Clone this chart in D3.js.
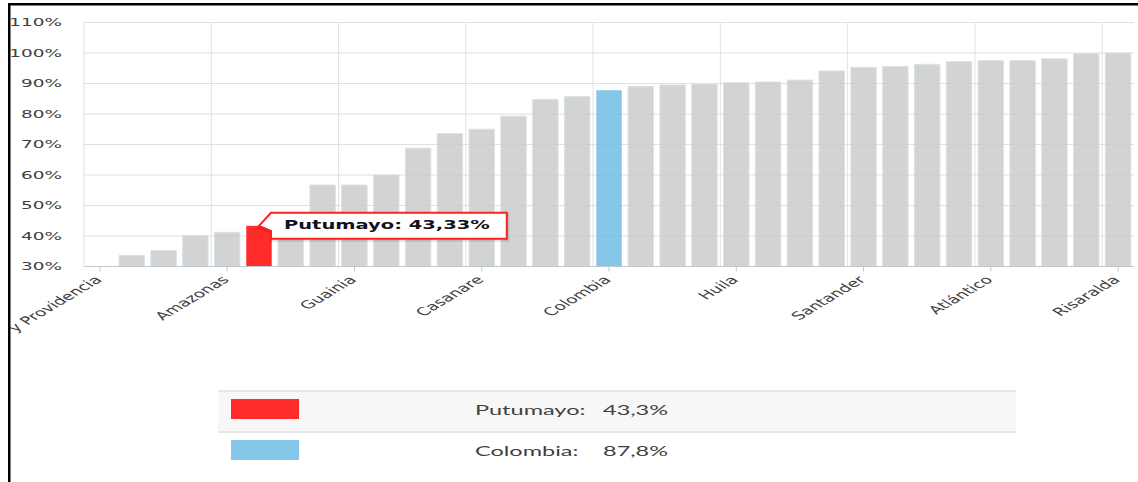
<!DOCTYPE html>
<html><head><meta charset="utf-8">
<script src="https://cdn.jsdelivr.net/npm/d3@7"></script>
<style>html,body{margin:0;padding:0;background:#fff;overflow:hidden}svg{display:block}</style>
</head><body><svg id="c" width="1138" height="482"></svg>
<script>
// ---- data ----
const categories = ["San Andrés y Providencia","Vaupés","Vichada","La Guajira","Amazonas","Putumayo","Chocó","Guaviare","Guainia","Caquetá","Arauca","Córdoba","Casanare","Magdalena","Nariño","Cesar","Colombia","Sucre","Meta","Bolívar","Huila","Cauca","Tolima","Norte de Santander","Santander","Caldas","Boyacá","Cundinamarca","Atlántico","Antioquia","Valle del Cauca","Bogotá","Risaralda"];
const values = [28,33.6,35.2,40.1,41.2,43.33,45.5,56.7,56.7,60.0,68.8,73.6,75.0,79.3,84.8,85.7,87.8,89.0,89.5,89.8,90.2,90.5,91.1,94.1,95.3,95.6,96.3,97.2,97.5,97.5,98.1,99.8,100.0];
const yTicks = [30,40,50,60,70,80,90,100,110];
const highlightNames = ["Putumayo","Colombia"];
const highlightColors = ["#ff2a2a","#86c6e8"];
const baseColor = "#d3d3d3";
const tooltipName = "Putumayo";
const labelEvery = 4;

const SX = 1.68; // horizontal stretch of the whole picture
const X = p => p / SX;
const fmt = (v, d) => v.toFixed(d).replace(".", ",") + "%";

const svg = d3.select("#c");
const g = svg.append("g").attr("transform", `scale(${SX},1)`);

const x = d3.scaleBand().domain(categories).range([X(84), X(1134)]).paddingInner(0.2).paddingOuter(0.1);
const y = d3.scaleLinear().domain([30,110]).range([266.5,22.5]);
const step = x.step();
const colorOf = c => { const i = highlightNames.indexOf(c); return i >= 0 ? highlightColors[i] : baseColor; };

// horizontal grid
g.append("g").selectAll("line").data(yTicks).join("line")
  .attr("x1", X(84)).attr("x2", X(1134))
  .attr("y1", d => y(d)).attr("y2", d => y(d))
  .attr("stroke", "#e6e6e6").attr("stroke-width", 1)
  .attr("vector-effect", "non-scaling-stroke");

const labeled = categories.filter((c, i) => i % labelEvery === 0);
// vertical grid at category boundaries
g.append("g").selectAll("line").data(labeled).join("line")
  .attr("x1", d => x(d) - step * 0.1).attr("x2", d => x(d) - step * 0.1)
  .attr("y1", y(110)).attr("y2", y(30))
  .attr("stroke", "#e2e2e2").attr("stroke-width", 1)
  .attr("vector-effect", "non-scaling-stroke");

// bars
g.append("g").selectAll("rect").data(categories).join("rect")
  .attr("x", d => x(d)).attr("width", x.bandwidth())
  .attr("y", (d, i) => y(Math.max(values[i], 30)))
  .attr("height", (d, i) => y(30) - y(Math.max(values[i], 30)))
  .attr("fill", d => colorOf(d))
  .attr("stroke", d => colorOf(d) === baseColor ? "#d7e3ea" : "none")
  .attr("stroke-width", 1).attr("vector-effect", "non-scaling-stroke");

// faint grid through bars
g.append("g").selectAll("line").data(yTicks.slice(1)).join("line")
  .attr("x1", X(84)).attr("x2", X(1134))
  .attr("y1", d => y(d)).attr("y2", d => y(d))
  .attr("stroke", "#000").attr("stroke-opacity", 0.025).attr("stroke-width", 1)
  .attr("vector-effect", "non-scaling-stroke");

// x axis line + ticks
g.append("line").attr("x1", X(84)).attr("x2", X(1134)).attr("y1", y(30)).attr("y2", y(30))
  .attr("stroke", "#c0c8d0").attr("stroke-width", 1.2).attr("vector-effect", "non-scaling-stroke");
g.append("g").selectAll("line").data(labeled).join("line")
  .attr("x1", d => x(d) + x.bandwidth() / 2).attr("x2", d => x(d) + x.bandwidth() / 2)
  .attr("y1", y(30)).attr("y2", y(30) + 5)
  .attr("stroke", "#c0c8d0").attr("stroke-width", 1).attr("vector-effect", "non-scaling-stroke");

// y labels
g.append("g").selectAll("text").data(yTicks).join("text")
  .attr("x", X(62)).attr("y", d => y(d) + 4)
  .attr("text-anchor", "end")
  .attr("font-family", "DejaVu Sans, Verdana, sans-serif").attr("font-size", 11)
  .attr("fill", "#404040")
  .text(d => d + "%");

// x labels
g.append("g").selectAll("text").data(labeled).join("text")
  .attr("transform", d => `translate(${x(d) + x.bandwidth() / 2 + X(3)},${y(30) + 14}) rotate(-45)`)
  .attr("text-anchor", "end")
  .attr("font-family", "DejaVu Sans, Verdana, sans-serif").attr("font-size", 11)
  .attr("fill", "#404040")
  .text(d => d);

// tooltip
const ti = categories.indexOf(tooltipName);
const tipX = x(tooltipName) + x.bandwidth() / 2, tipY = y(values[ti]);
const tt = g.append("g");
const ttText = tt.append("text")
  .attr("x", tipX + X(25)).attr("y", tipY + 3)
  .attr("font-family", "DejaVu Sans, Verdana, sans-serif").attr("font-size", 11.6).attr("font-weight", "bold")
  .attr("fill", "#111122")
  .text(`${tooltipName}: ${fmt(values[ti], 2)}`);
const tLen = ttText.node().getComputedTextLength();
const bl = tipX + X(12), br = tipX + X(25) + tLen + X(17), bt = tipY - 13, bb = tipY + 13;
const pathD = `M${bl},${bt} L${br},${bt} L${br},${bb} L${bl},${bb} L${bl},${bt + 18} L${tipX},${tipY} Z`;
tt.insert("path", "text").attr("d", pathD).attr("transform", "translate(0.6,1.5)")
  .attr("fill", "none").attr("stroke", "#000").attr("stroke-opacity", 0.12).attr("stroke-width", 3)
  .attr("vector-effect", "non-scaling-stroke");
tt.insert("path", "text").attr("d", pathD).attr("fill", "#fff")
  .attr("stroke", "#ff2020").attr("stroke-width", 2).attr("vector-effect", "non-scaling-stroke");

// legend
const legendVals = highlightNames.map(n => values[categories.indexOf(n)]);
const lg = g.append("g");
const rowTop = [391, 432], rowH = [40, 40];
lg.append("rect").attr("x", X(218)).attr("y", 391).attr("width", X(1016 - 218)).attr("height", 40).attr("fill", "#f7f7f7");
lg.append("line").attr("x1", X(218)).attr("x2", X(1016)).attr("y1", 391).attr("y2", 391)
  .attr("stroke", "#e6e6e6").attr("stroke-width", 2).attr("vector-effect", "non-scaling-stroke");
lg.append("line").attr("x1", X(218)).attr("x2", X(1016)).attr("y1", 432).attr("y2", 432)
  .attr("stroke", "#e6e6e6").attr("stroke-width", 2).attr("vector-effect", "non-scaling-stroke");
highlightNames.forEach((n, i) => {
  const top = rowTop[i];
  lg.append("rect").attr("x", X(231)).attr("y", top + 8).attr("width", X(68)).attr("height", 20).attr("fill", highlightColors[i]);
  lg.append("text").attr("x", X(475)).attr("y", top + 24)
    .attr("font-family", "Lato, sans-serif").attr("font-size", 14).attr("fill", "#404040")
    .text(n + ":");
  lg.append("text").attr("x", X(603)).attr("y", top + 24)
    .attr("font-family", "Lato, sans-serif").attr("font-size", 14).attr("fill", "#404040")
    .text(fmt(legendVals[i], 1));
});

// frame
svg.append("rect").attr("x", 0).attr("y", 0).attr("width", 8).attr("height", 482).attr("fill", "#fff");
svg.append("rect").attr("x", 0).attr("y", 0).attr("width", 1138).attr("height", 3).attr("fill", "#fff");
svg.append("rect").attr("x", 8).attr("y", 3).attr("width", 1130).attr("height", 2.5).attr("fill", "#000");
svg.append("rect").attr("x", 8).attr("y", 3).attr("width", 2.5).attr("height", 479).attr("fill", "#000");
</script></body></html>
